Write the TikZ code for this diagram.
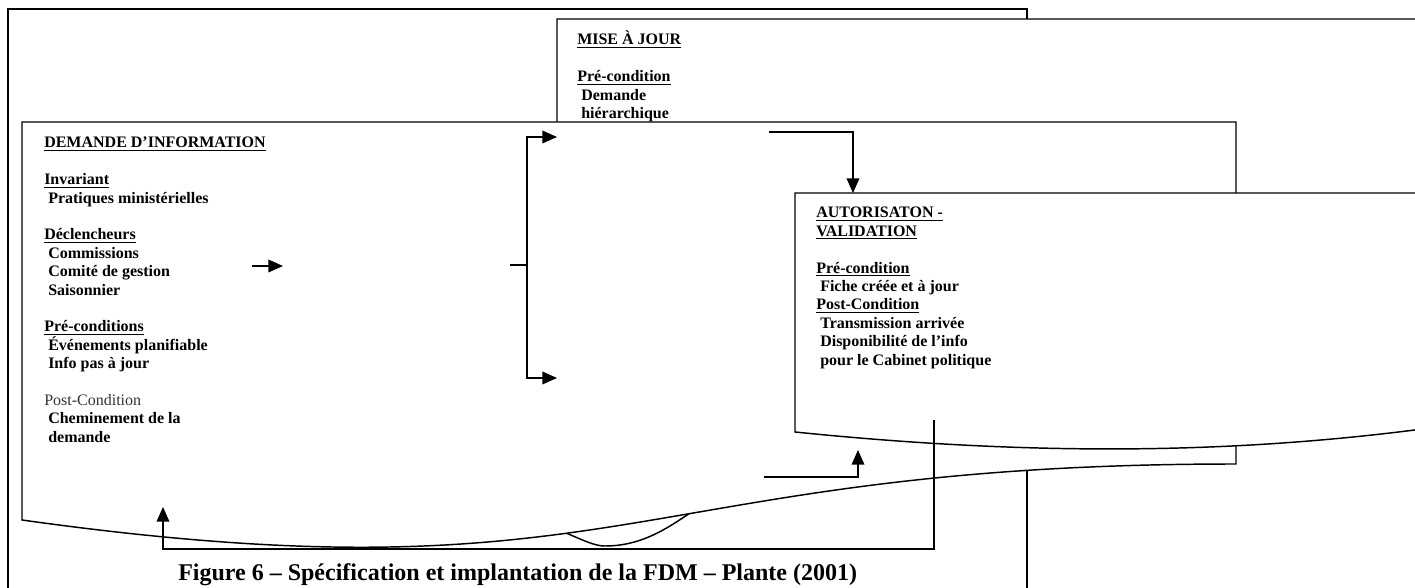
\documentclass[tikz,border=0pt]{standalone}
\usepackage{fontspec}
\setmainfont{Liberation Serif}
\usetikzlibrary{arrows.meta}
\newcommand\myul[1]{\setbox0\hbox{#1}\rlap{\rule[-2.2pt]{\wd0}{0.9pt}}\box0}
\newcommand\mylines[1]{\vtop{\baselineskip=13.8pt\lineskiplimit=-30pt\lineskip=0pt #1}}
\newcommand\li[1]{\hbox{#1}}
\newcommand\sub[1]{\hbox{\hspace{0.25em}#1}}
\begin{document}
\begin{tikzpicture}[x=0.75pt,y=-0.75pt,
  box/.style={draw=black,line width=1.1pt,line join=miter},
  conn/.style={draw=black,line width=1.1pt},
  arr/.style={conn,-{Triangle[length=11pt,width=9.5pt]}},
  txt/.style={inner sep=0pt,anchor=base west,font=\fontsize{12}{13.8}\selectfont\bfseries},
  captxt/.style={inner sep=0pt,anchor=base west,font=\fontsize{18}{21}\selectfont\bfseries}]
\clip (0,0) rectangle (1415,588);
\fill[white] (0,0) rectangle (1415,588);
% outer frame
\draw[box] (8,600) -- (8,9) -- (1027,9) -- (1027,600);
% MISE A JOUR box
\draw[box,fill=white] (557,19) -- (1430,19) -- (1430,426) -- (1236,440)
  .. controls (900,465) and (760,490) .. (690,513)
  .. controls (665,530) and (640,546) .. (605,546)
  .. controls (595,546) and (585,541) .. (566,533)
  -- (557,528) -- cycle;
\node[txt] (mtxt) at (577,45) {\mylines{
  \li{\myul{MISE À JOUR}}
  \li{}
  \li{\myul{Pré-condition}}
  \sub{Demande}
  \sub{hiérarchique}}};
% DEMANDE box
\draw[box,fill=white] (22,122) -- (1236,122) -- (1236,464)
  .. controls (629,464) and (629,605) .. (22,520) -- cycle;
\node[txt] (dtxt) at (44,148) {\mylines{
  \li{\myul{DEMANDE D’INFORMATION}}
  \li{}
  \li{\myul{Invariant}}
  \sub{Pratiques ministérielles}
  \li{}
  \li{\myul{Déclencheurs}}
  \sub{Commissions}
  \sub{Comité de gestion}
  \sub{Saisonnier}
  \li{}
  \li{\myul{Pré-conditions}}
  \sub{Événements planifiable}
  \sub{Info pas à jour}
  \li{}
  \li{\mdseries\color{black!80}Post-Condition}
  \sub{Cheminement de la}
  \sub{demande}}};
% AUTORISATON box
\draw[box,fill=white] (795,193) -- (1430,193) -- (1430,428)
  .. controls (1250,452) and (1050,458) .. (795,432) -- cycle;
\node[txt] (atxt) at (816,218) {\mylines{
  \li{\myul{AUTORISATON -}}
  \li{\myul{VALIDATION}}
  \li{}
  \li{\myul{Pré-condition}}
  \sub{Fiche créée et à jour}
  \li{\myul{Post-Condition}}
  \sub{Transmission arrivée}
  \sub{Disponibilité de l’info}
  \sub{pour le Cabinet politique}}};
% connectors
\coordinate (a1s) at (252,266); \coordinate (a1e) at (283,266);
\draw[arr] (a1s) -- (a1e);
\coordinate (bs) at (510,265); \coordinate (bj) at (527,265);
\coordinate (bt) at (557,137); \coordinate (bb) at (557,378);
\draw[conn] (bs) -- (bj);
\draw[arr] (bj) |- (bt);
\draw[arr] (bj) |- (bb);
\coordinate (cs) at (769,132); \coordinate (ce) at (853,193);
\draw[arr] (cs) -| (ce);
\coordinate (ds) at (764,477); \coordinate (de) at (858,450);
\draw[arr] (ds) -| (de);
\coordinate (es) at (934,420); \coordinate (ec) at (934,549); \coordinate (ee) at (163,507);
\draw[arr] (es) -- (ec) -| (ee);
% caption
\node[captxt] (caption) at (178,580) {Figure 6 -- Spécification et implantation de la FDM -- Plante (2001)};
\end{tikzpicture}
\end{document}
